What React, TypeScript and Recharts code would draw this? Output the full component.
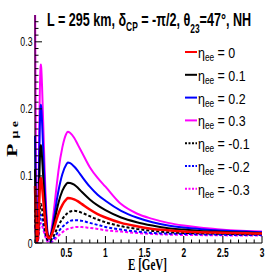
import React from 'react'
import { LineChart, Line, XAxis, YAxis } from 'recharts'

// neutrino energy in GeV
const energy = [
  0.1, 0.105, 0.11, 0.115, 0.12, 0.125, 0.13,
  0.135, 0.14, 0.145, 0.15, 0.16, 0.17, 0.175, 0.18, 0.19, 0.2, 0.21, 0.22, 0.23, 0.24, 0.25, 0.26, 0.27,
  0.28, 0.3, 0.32, 0.34, 0.36, 0.38, 0.4, 0.45, 0.5, 0.52, 0.55, 0.6, 0.65, 0.7, 0.8, 0.9, 1.0,
  1.2, 1.4, 1.6, 1.8, 2.0, 2.2, 2.4, 2.6, 2.8, 3.0,
]

// P(mu -> e) for each eta_ee
const probEta0 = [
  0.085, 0.06, 0.035, 0.018, 0.008, 0.003, 0.003,
  0.006, 0.014, 0.029, 0.047, 0.078, 0.095, 0.097, 0.095, 0.085, 0.072, 0.058, 0.045, 0.033, 0.023, 0.015, 0.01, 0.008,
  0.007, 0.009, 0.014, 0.021, 0.029, 0.037, 0.044, 0.057, 0.065, 0.067, 0.0668, 0.065, 0.062, 0.058, 0.05, 0.043, 0.038,
  0.03, 0.025, 0.021, 0.019, 0.017, 0.016, 0.0155, 0.015, 0.0145, 0.014,
]
const probEta01 = [
  0.11, 0.08, 0.05, 0.025, 0.01, 0.004, 0.004,
  0.008, 0.02, 0.044, 0.07, 0.117, 0.143, 0.146, 0.143, 0.128, 0.108, 0.088, 0.067, 0.048, 0.033, 0.021, 0.013, 0.01,
  0.009, 0.011, 0.018, 0.028, 0.039, 0.05, 0.06, 0.078, 0.088, 0.09, 0.0895, 0.087, 0.082, 0.076, 0.065, 0.056, 0.049,
  0.038, 0.031, 0.026, 0.022, 0.02, 0.018, 0.017, 0.016, 0.0155, 0.015,
]
const probEta02 = [
  0.16, 0.12, 0.075, 0.04, 0.015, 0.005, 0.004,
  0.008, 0.029, 0.062, 0.099, 0.165, 0.202, 0.206, 0.202, 0.181, 0.152, 0.124, 0.095, 0.068, 0.045, 0.027, 0.013, 0.007,
  0.006, 0.01, 0.021, 0.035, 0.05, 0.065, 0.078, 0.103, 0.117, 0.12, 0.119, 0.114, 0.107, 0.099, 0.084, 0.072, 0.063,
  0.048, 0.038, 0.031, 0.026, 0.023, 0.021, 0.019, 0.018, 0.017, 0.016,
]
const probEta03 = [
  0.38, 0.26, 0.15, 0.07, 0.025, 0.008, 0.005,
  0.011, 0.037, 0.08, 0.128, 0.213, 0.261, 0.266, 0.261, 0.234, 0.197, 0.16, 0.122, 0.088, 0.059, 0.035, 0.016, 0.008,
  0.005, 0.012, 0.028, 0.047, 0.068, 0.089, 0.108, 0.143, 0.163, 0.166, 0.164, 0.157, 0.146, 0.135, 0.113, 0.097, 0.084,
  0.058, 0.044, 0.036, 0.03, 0.026, 0.023, 0.021, 0.019, 0.018, 0.017,
]
const probEtaM01 = [
  0.05, 0.035, 0.022, 0.012, 0.005, 0.002, 0.002,
  0.003, 0.008, 0.017, 0.028, 0.046, 0.057, 0.058, 0.057, 0.051, 0.043, 0.035, 0.027, 0.019, 0.013, 0.008, 0.005, 0.004,
  0.003, 0.004, 0.007, 0.011, 0.016, 0.021, 0.026, 0.036, 0.043, 0.045, 0.047, 0.048, 0.047, 0.045, 0.04, 0.035, 0.031,
  0.025, 0.021, 0.018, 0.016, 0.015, 0.0145, 0.014, 0.0135, 0.013, 0.013,
]
const probEtaM02 = [
  0.035, 0.025, 0.016, 0.008, 0.003, 0.001, 0.001,
  0.002, 0.006, 0.013, 0.02, 0.034, 0.041, 0.042, 0.041, 0.037, 0.031, 0.025, 0.019, 0.014, 0.009, 0.006, 0.004, 0.003,
  0.002, 0.002, 0.004, 0.007, 0.01, 0.014, 0.017, 0.024, 0.029, 0.031, 0.033, 0.034, 0.0338, 0.033, 0.03, 0.027, 0.024,
  0.02, 0.017, 0.015, 0.014, 0.0135, 0.013, 0.0125, 0.012, 0.012, 0.012,
]
const probEtaM03 = [
  0.025, 0.018, 0.011, 0.006, 0.002, 0.001, 0.001,
  0.001, 0.004, 0.009, 0.014, 0.024, 0.029, 0.03, 0.029, 0.026, 0.022, 0.018, 0.014, 0.01, 0.007, 0.004, 0.002, 0.002,
  0.001, 0.001, 0.002, 0.004, 0.006, 0.009, 0.011, 0.016, 0.02, 0.021, 0.022, 0.0235, 0.024, 0.0238, 0.0225, 0.021, 0.019,
  0.017, 0.015, 0.0135, 0.0125, 0.012, 0.0118, 0.0115, 0.0113, 0.011, 0.011,
]

const etaLabels = ['0', '0.1', '0.2', '0.3', '-0.1', '-0.2', '-0.3']

const xTicks = [
  0.1, 0.2, 0.3, 0.4, 0.5, 0.6, 0.7, 0.8, 0.9, 1, 1.1, 1.2, 1.3, 1.4, 1.5,
  1.6, 1.7, 1.8, 1.9, 2, 2.1, 2.2, 2.3, 2.4, 2.5, 2.6, 2.7, 2.8, 2.9, 3,
]
const xTickLabels = ['0.5', '1', '1.5', '2', '2.5', '3']
const yTicks = [
  0, 0.01, 0.02, 0.03, 0.04, 0.05, 0.06, 0.07, 0.08, 0.09, 0.1, 0.11, 0.12, 0.13, 0.14, 0.15, 0.16,
  0.17, 0.18, 0.19, 0.2, 0.21, 0.22, 0.23, 0.24, 0.25, 0.26, 0.27, 0.28, 0.29, 0.3, 0.31, 0.32, 0.33,
]
const yTickLabels = ['0', '0.1', '0.2', '0.3']

const series = [
  { key: 'p0', values: probEta0, label: etaLabels[0], color: '#ff0000', dash: undefined },
  { key: 'p1', values: probEta01, label: etaLabels[1], color: '#000000', dash: undefined },
  { key: 'p2', values: probEta02, label: etaLabels[2], color: '#0000ff', dash: undefined },
  { key: 'p3', values: probEta03, label: etaLabels[3], color: '#ff00ff', dash: undefined },
  { key: 'm1', values: probEtaM01, label: etaLabels[4], color: '#000000', dash: '3 2' },
  { key: 'm2', values: probEtaM02, label: etaLabels[5], color: '#0000ff', dash: '3 2' },
  { key: 'm3', values: probEtaM03, label: etaLabels[6], color: '#ff00ff', dash: '3 2' },
]

const data = energy.map((e, i) => {
  const row: Record<string, number> = { E: e }
  series.forEach((s) => {
    row[s.key] = s.values[i]
  })
  return row
})

const sans = 'Liberation Sans, Arial, sans-serif'
const serif = 'Liberation Serif, Times New Roman, serif'

function XTick(props: any) {
  const { x, y, payload } = props
  const label = String(payload.value)
  const major = xTickLabels.includes(label)
  return (
    <g>
      <line x1={x} x2={x} y1={y} y2={y - (major ? 7 : 3.5)} stroke="#000" />
      {major && (
        <text
          transform={`translate(${x},${y + 13.5}) scale(0.7,1)`}
          textAnchor="middle"
          fontFamily={sans}
          fontWeight="bold"
          fontSize={12}
          fill="#000"
        >
          {label}
        </text>
      )}
    </g>
  )
}

function YTick(props: any) {
  const { x, y, payload } = props
  const label = String(payload.value)
  const major = yTickLabels.includes(label)
  return (
    <g>
      <line x1={x} x2={x + (major ? 7 : 3.5)} y1={y} y2={y} stroke="#000" />
      {major && (
        <text
          transform={`translate(${x - 2.5},${y + 4.5}) scale(0.7,1)`}
          textAnchor="end"
          fontFamily={sans}
          fontSize={12.5}
          fill="#000"
        >
          {label}
        </text>
      )}
    </g>
  )
}

export default function App() {
  const drawOrder = [...series].reverse()
  return (
    <div style={{ position: 'absolute', left: 0, top: 0, width: 266, height: 273, background: '#fff' }}>
      <LineChart width={266} height={273} data={data} margin={{ top: 15, right: 4, bottom: 0, left: 0 }}>
        <XAxis
          dataKey="E"
          type="number"
          domain={[0.1, 3]}
          ticks={xTicks}
          interval={0}
          height={30}
          tickSize={0}
          tickMargin={0}
          tickLine={false}
          axisLine={{ stroke: '#000' }}
          tick={<XTick />}
        />
        <XAxis
          xAxisId="top"
          orientation="top"
          dataKey="E"
          type="number"
          domain={[0.1, 3]}
          height={0}
          tick={false}
          tickLine={false}
          axisLine={{ stroke: '#000' }}
        />
        <YAxis
          type="number"
          domain={[0, 0.34]}
          allowDataOverflow
          ticks={yTicks}
          interval={0}
          width={35}
          tickSize={0}
          tickMargin={0}
          tickLine={false}
          axisLine={{ stroke: '#000' }}
          tick={<YTick />}
        />
        <YAxis
          yAxisId="right"
          orientation="right"
          type="number"
          domain={[0, 0.34]}
          width={0}
          tick={false}
          tickLine={false}
          axisLine={{ stroke: '#000' }}
        />
        {drawOrder.map((s) => (
          <Line
            key={s.key}
            dataKey={s.key}
            type="monotone"
            stroke={s.color}
            strokeWidth={s.key === 'p0' ? 2.5 : 2}
            strokeDasharray={s.dash}
            dot={false}
            isAnimationActive={false}
          />
        ))}
      </LineChart>
      <svg width={266} height={273} style={{ position: 'absolute', left: 0, top: 0, pointerEvents: 'none' }}>
        <text transform="translate(47,25.6) scale(0.7,1)" fontFamily={sans} fontWeight="bold" fontSize={18} fill="#000">
          L = 295 km, δ
          <tspan dy={5} fontSize={12}>CP</tspan>
          <tspan dy={-5}> = -π/2, θ</tspan>
          <tspan dy={7} fontSize={12}>23</tspan>
          <tspan dy={-7}>=47°, NH</tspan>
        </text>
        {series.map((s, i) => {
          const y = 52 + i * 22.8
          return (
            <g key={s.key}>
              <line x1={185} x2={197} y1={y} y2={y} stroke={s.color} strokeWidth={2} strokeDasharray={s.dash ? '2 1.5' : undefined} />
              <text transform={`translate(198,${y + 6}) scale(0.83,1)`} fontFamily={sans} fontSize={15} fill="#000">
                η<tspan dy={3} fontSize={10}>ee</tspan>
                <tspan dy={-3}> = {s.label}</tspan>
              </text>
            </g>
          )
        })}
        <text transform="translate(147.5,269.5) scale(0.65,1)" textAnchor="middle" fontFamily={serif} fontWeight="bold" fontSize={17} fill="#000">
          E [GeV]
        </text>
        <text transform="translate(17,157) rotate(-90) scale(1,0.7)" fontFamily={serif} fontWeight="bold" fontSize={22} fill="#000">
          P<tspan dx={5} dy={1} fontSize={14}>μ e</tspan>
        </text>
      </svg>
    </div>
  )
}
